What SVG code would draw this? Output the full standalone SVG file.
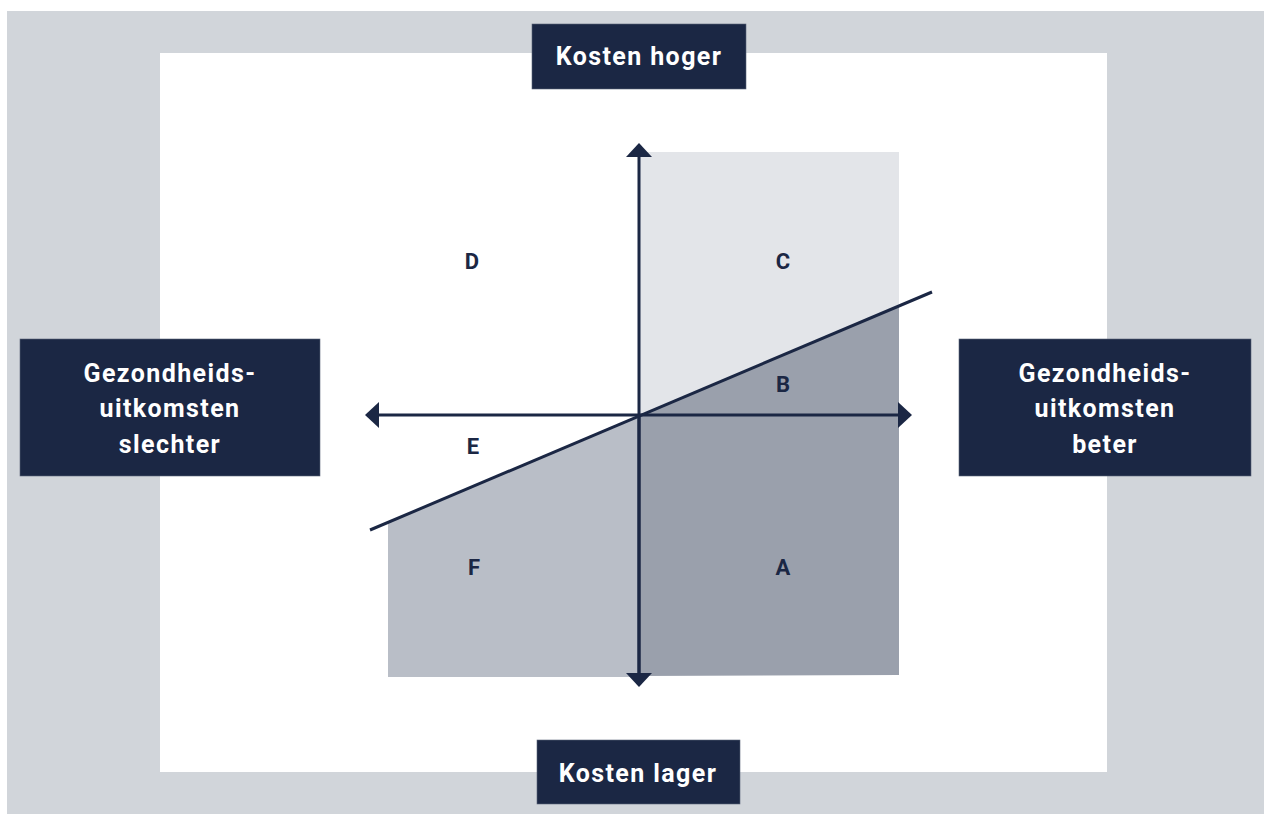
<svg xmlns="http://www.w3.org/2000/svg" width="1264" height="814" viewBox="0 0 1264 814">
<defs>
<style>
.box{fill:#1b2744;stroke:#5a6478;stroke-width:0.6}
.bt{fill:#ffffff;font-family:Roboto,"Liberation Sans",sans-serif;font-weight:bold;font-size:25px;text-anchor:middle;letter-spacing:1.4px}
.ql{fill:#1b2744;font-family:Roboto,"Liberation Sans",sans-serif;font-weight:bold;font-size:22px;text-anchor:middle}
.ax{stroke:#1b2744;stroke-width:3;fill:none}
</style>
<marker id="ah" viewBox="0 0 14 26" refX="1" refY="13" markerWidth="14" markerHeight="26" markerUnits="userSpaceOnUse" orient="auto">
<path d="M0,0 L14,13 L0,26 Z" fill="#1b2744"/>
</marker>
</defs>
<rect x="0" y="0" width="1264" height="814" fill="#ffffff"/>
<rect x="7" y="11" width="1257" height="803" fill="#d1d5da"/>
<rect x="160" y="53" width="947" height="719" fill="#ffffff"/>
<g id="regions">
<rect x="639" y="152" width="260" height="264" fill="#e3e5e9"/>
<polygon points="639,416 899,306 899,675 639,676" fill="#9aa0ac"/>
<polygon points="388,522 639,416 639,677 388,677" fill="#b9bec7"/>
</g>
<g id="connectors">
<line class="ax" x1="639" y1="676" x2="639" y2="156" marker-end="url(#ah)"/>
<line class="ax" x1="639" y1="416" x2="639" y2="674" marker-end="url(#ah)"/>
<line class="ax" x1="639" y1="415" x2="378" y2="415" marker-end="url(#ah)"/>
<line class="ax" x1="639" y1="415" x2="899" y2="415" marker-end="url(#ah)"/>
<line class="ax" x1="370" y1="530" x2="932" y2="292"/>
</g>
<g id="labels">
<text class="ql" x="472" y="269">D</text>
<text class="ql" x="783" y="269">C</text>
<text class="ql" x="783" y="392">B</text>
<text class="ql" x="473" y="454">E</text>
<text class="ql" x="474" y="575">F</text>
<text class="ql" x="783" y="575">A</text>
</g>
<g id="node-top">
<rect class="box" x="532" y="24" width="214" height="65"/>
<text class="bt" x="639" y="65">Kosten hoger</text>
</g>
<g id="node-bottom">
<rect class="box" x="537" y="740" width="203" height="64"/>
<text class="bt" x="638" y="782">Kosten lager</text>
</g>
<g id="node-left">
<rect class="box" x="20" y="339" width="300" height="137"/>
<text class="bt" x="170" y="382">Gezondheids-</text>
<text class="bt" x="170" y="417">uitkomsten</text>
<text class="bt" x="170" y="453">slechter</text>
</g>
<g id="node-right">
<rect class="box" x="959" y="339" width="292" height="137"/>
<text class="bt" x="1105" y="382">Gezondheids-</text>
<text class="bt" x="1105" y="417">uitkomsten</text>
<text class="bt" x="1105" y="453">beter</text>
</g>
</svg>
